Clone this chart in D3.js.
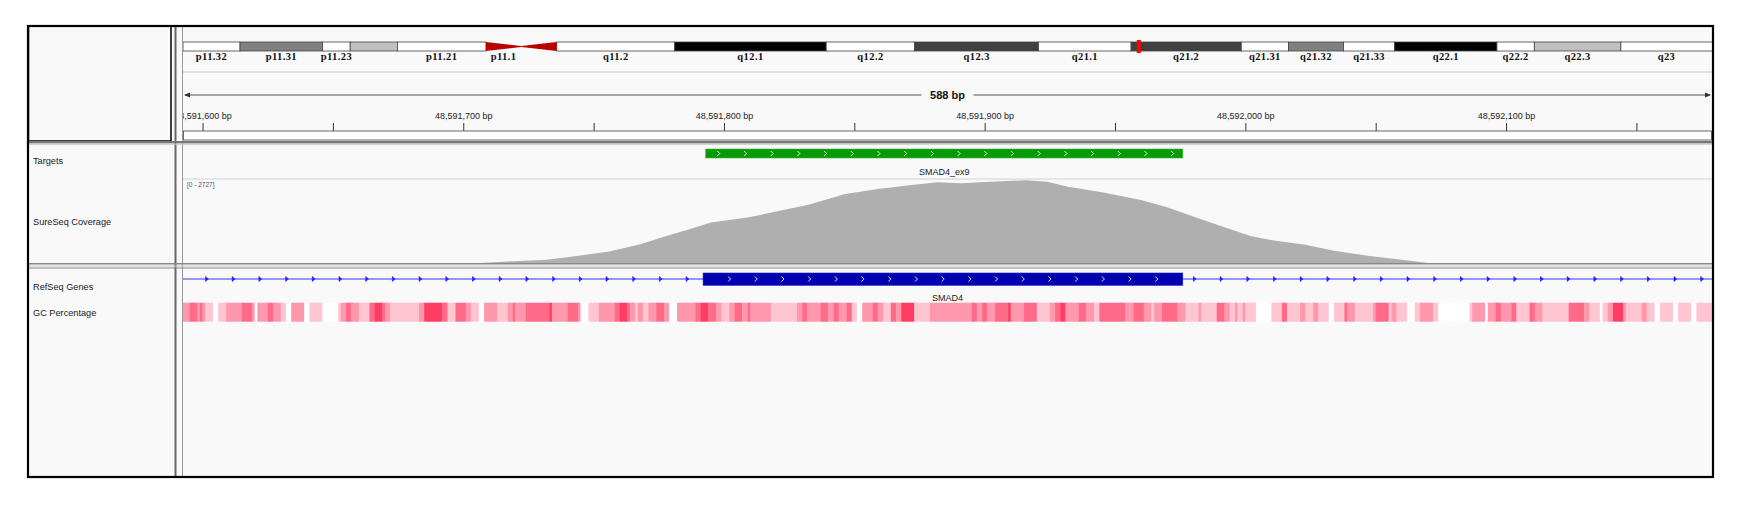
<!DOCTYPE html>
<html>
<head>
<meta charset="utf-8">
<script src="https://cdn.jsdelivr.net/npm/d3@7"></script>
<style>
  body { margin: 0; background: #fff; }
  text { font-family: "Liberation Sans", Arial, sans-serif; }
</style>
</head>
<body>
<div id="igv"></div>
<script>
// view window on chr18 (hg19)
const viewStart = 48591592.5;
const viewEnd = 48592179;
const spanLabel = '588 bp';

// chr18 cytobands (Mb)
const bandNames = ['p11.32', 'p11.31', 'p11.23', 'p11.22', 'p11.21', 'p11.1', 'q11.1', 'q11.2', 'q12.1', 'q12.2',
  'q12.3', 'q21.1', 'q21.2', 'q21.31', 'q21.32', 'q21.33', 'q22.1', 'q22.2', 'q22.3', 'q23'];
const bandLabels = ['p11.32', 'p11.31', 'p11.23', '', 'p11.21', 'p11.1', '', 'q11.2', 'q12.1', 'q12.2',
  'q12.3', 'q21.1', 'q21.2', 'q21.31', 'q21.32', 'q21.33', 'q22.1', 'q22.2', 'q22.3', 'q23'];
const bandStarts = [0, 2.9, 7.1, 8.5, 10.9, 15.4, 17.2, 19.0, 25.0, 32.7, 37.2, 43.5, 48.2, 53.8, 56.2, 59.0, 61.6, 66.8, 68.7, 73.1];
const bandEnds = [2.9, 7.1, 8.5, 10.9, 15.4, 17.2, 19.0, 25.0, 32.7, 37.2, 43.5, 48.2, 53.8, 56.2, 59.0, 61.6, 66.8, 68.7, 73.1, 78.077];
const bandStains = ['gneg', 'gpos50', 'gneg', 'gpos25', 'gneg', 'acen', 'acen', 'gneg', 'gpos100', 'gneg',
  'gpos75', 'gneg', 'gpos75', 'gneg', 'gpos50', 'gneg', 'gpos100', 'gneg', 'gpos25', 'gneg'];

// features
const targetName = 'SMAD4_ex9';
const targetStart = 48591793;
const targetEnd = 48591976;
const geneName = 'SMAD4';
const geneStart = 48556583;
const geneEnd = 48611412;
const exonStart = 48591792;
const exonEnd = 48591976;

// coverage
const covMax = 2727;
const covPos = [48591705, 48591717, 48591732, 48591742, 48591756, 48591768, 48591776, 48591788, 48591795,
  48591809, 48591820, 48591832, 48591840, 48591846, 48591859, 48591872, 48591882, 48591891, 48591902,
  48591916, 48591924, 48591932, 48591945, 48591960, 48591970, 48591980, 48591992, 48592002, 48592011,
  48592023, 48592034, 48592047, 48592060, 48592071];
const covVal = [0, 58, 113, 219, 381, 620, 833, 1136, 1317, 1478, 1672, 1888, 2082, 2233, 2404, 2533, 2620,
  2588, 2640, 2685, 2640, 2478, 2298, 2049, 1814, 1510, 1168, 887, 736, 597, 403, 242, 113, 0];

// GC percentage windows: offset (bp from gcBase) where each run starts, and its GC %
const gcBase = 48591592;
const gcEndOffset = 587;
const gcOffset = [0, 3, 6, 7, 8, 9, 12, 14, 17, 23, 27, 28, 29, 33, 35, 38, 40, 42, 47, 49, 54, 60, 61, 63, 65, 68,
  72, 74, 77, 78, 80, 91, 93, 100, 102, 105, 109, 111, 114, 116, 121, 125, 127, 128, 132, 141, 142,
  148, 152, 153, 156, 160, 166, 168, 171, 172, 174, 175, 177, 179, 182, 185, 187, 190, 197, 199, 202, 205,
  207, 210, 212, 215, 217, 218, 226, 236, 238, 240, 245, 248, 250, 252, 255, 257, 259, 261, 265, 267, 269,
  272, 274, 276, 281, 287,
  303, 305, 307, 309, 312, 317, 318, 323, 328, 333, 335, 337, 339, 344, 347, 350, 352, 362, 365, 369, 372,
  373, 376, 382, 385, 390, 391, 397, 400, 402, 404, 405, 407, 408, 412, 418, 422, 424, 429, 431, 434, 436,
  440, 442, 446, 447, 450, 457, 458, 463, 464, 466, 470, 473, 475, 480, 482, 494, 495, 500, 501, 504, 506,
  510, 512, 517, 519, 522, 532, 538, 540, 544, 545, 547, 549, 553, 554, 560, 562, 565, 567, 572, 574, 579, 581];
const gcPct = [48, 56, 48, 56, 48, 40, 30, 40, 48, 56, 48, 30, 48, 56, 48, 40, 30, 48, 30, 40, 30, 40, 48, 56, 48, 40,
  56, 64, 56, 48, 40, 48, 64, 56, 40, 56, 48, 40, 30, 48, 40, 48, 56, 48, 56, 64, 48,
  56, 48, 30, 40, 48, 56, 64, 56, 48, 40, 48, 40, 48, 56, 48, 30, 48, 56, 64, 56, 48,
  40, 48, 56, 48, 56, 48, 40, 48, 56, 48, 56, 48, 56, 48, 56, 40, 30, 48, 56, 48, 40,
  56, 48, 64, 40, 48,
  56, 48, 56, 48, 56, 64, 48, 56, 40, 48, 56, 64, 48, 56, 48, 40, 56, 48, 56, 48, 40,
  48, 56, 48, 40, 48, 40, 56, 48, 40, 48, 40, 48, 40, 30, 40, 56, 40, 48, 40, 48, 40,
  30, 40, 56, 48, 40, 48, 56, 40, 48, 40, 30, 40, 48, 40, 30, 40, 48, 30, 48, 56, 48,
  56, 40, 56, 48, 40, 56, 48, 40, 30, 40, 48, 64, 48, 40, 48, 40, 30, 40, 30, 40, 30, 40];

const trackNames = ['Targets', 'SureSeq Coverage', 'RefSeq Genes', 'GC Percentage'];

drawIGV();

function drawIGV() {
  const width = 1751;
  const height = 511;
  const left = 183;
  const right = 1712;
  const top = 26;
  const bottom = 477;
  const bg = '#f9f9f9';

  const svg = d3.select('#igv').append('svg')
    .attr('width', width)
    .attr('height', height);

  svg.append('rect').attr('width', width).attr('height', height).attr('fill', '#fff');
  svg.append('rect')
    .attr('x', 28).attr('y', top)
    .attr('width', right - 28).attr('height', bottom - top)
    .attr('fill', bg);

  svg.append('defs').append('clipPath').attr('id', 'dataClip')
    .append('rect')
    .attr('x', left).attr('y', top)
    .attr('width', right - left).attr('height', bottom - top);

  const x = d3.scaleLinear().domain([viewStart, viewEnd]).range([left, right]);

  const data = svg.append('g').attr('clip-path', 'url(#dataClip)');

  // ---------- ideogram ----------
  const ideoX = d3.scaleLinear().domain([0, 78.077]).range([left, left + 78.077 * 19.67]);
  const stainColor = {gneg: '#ffffff', gpos25: '#c0c0c0', gpos50: '#808080', gpos75: '#404040', gpos100: '#000000', acen: '#b80000'};
  const bands = bandNames.map((n, i) => ({name: n, label: bandLabels[i], s: bandStarts[i], e: bandEnds[i], stain: bandStains[i]}));
  const iy0 = 42;
  const iy1 = 51;
  const imid = (iy0 + iy1) / 2;
  const ideo = data.append('g');

  ideo.selectAll('rect.band')
    .data(bands.filter(d => d.stain !== 'acen'))
    .join('rect')
    .attr('class', 'band')
    .attr('x', d => ideoX(d.s))
    .attr('y', iy0)
    .attr('width', d => ideoX(d.e) - ideoX(d.s))
    .attr('height', iy1 - iy0)
    .attr('fill', d => stainColor[d.stain])
    .attr('stroke', '#444')
    .attr('stroke-width', 0.8);

  ideo.selectAll('path.acen')
    .data(bands.filter(d => d.stain === 'acen'))
    .join('path')
    .attr('class', 'acen')
    .attr('d', d => d.name.startsWith('p')
      ? `M${ideoX(d.s)},${iy0}L${ideoX(d.e)},${imid - 0.4}L${ideoX(d.e)},${imid + 0.4}L${ideoX(d.s)},${iy1}Z`
      : `M${ideoX(d.s)},${imid - 0.4}L${ideoX(d.e)},${iy0}L${ideoX(d.e)},${iy1}L${ideoX(d.s)},${imid + 0.4}Z`)
    .attr('fill', stainColor.acen);

  ideo.selectAll('text.bandLabel')
    .data(bands.filter(d => d.label))
    .join('text')
    .attr('class', 'bandLabel')
    .attr('x', d => (ideoX(d.s) + Math.min(ideoX(d.e), right)) / 2)
    .attr('y', 60)
    .attr('text-anchor', 'middle')
    .style('font-family', '"Liberation Serif", "Times New Roman", serif')
    .style('font-weight', 'bold')
    .style('font-size', '10.5px')
    .style('letter-spacing', '0.4px')
    .attr('fill', '#111')
    .text(d => d.label);

  // current view marker
  const viewMid = (viewStart + viewEnd) / 2 / 1e6;
  ideo.append('rect')
    .attr('x', ideoX(viewMid) - 2).attr('y', iy0 - 2)
    .attr('width', 4).attr('height', iy1 - iy0 + 4)
    .attr('fill', '#ff0000');

  data.append('line')
    .attr('x1', left).attr('x2', right).attr('y1', 72).attr('y2', 72)
    .attr('stroke', '#dedee4').attr('stroke-width', 2);

  // ---------- ruler ----------
  const ry = 95;
  data.append('line')
    .attr('x1', left + 2).attr('x2', right - 2).attr('y1', ry).attr('y2', ry)
    .attr('stroke', '#555').attr('stroke-width', 1.2);
  data.append('path')
    .attr('d', `M${left + 1},${ry}L${left + 7},${ry - 2.5}L${left + 7},${ry + 2.5}Z M${right - 1},${ry}L${right - 7},${ry - 2.5}L${right - 7},${ry + 2.5}Z`)
    .attr('fill', '#333');
  const midX = (left + right) / 2;
  data.append('rect')
    .attr('x', midX - 26).attr('y', ry - 6).attr('width', 52).attr('height', 12)
    .attr('fill', bg);
  data.append('text')
    .attr('x', midX).attr('y', ry + 4)
    .attr('text-anchor', 'middle')
    .style('font-size', '11px').style('font-weight', 'bold')
    .attr('fill', '#111')
    .text(spanLabel);

  const ticks = d3.range(48591600, viewEnd, 50);
  const axis = d3.axisTop(x)
    .tickValues(ticks)
    .tickSize(8)
    .tickPadding(4.5)
    .tickFormat(d => d % 100 === 0 ? d3.format(',')(d) + ' bp' : '');
  const axisG = data.append('g')
    .attr('transform', 'translate(0,131)')
    .call(axis);
  axisG.select('.domain').remove();
  axisG.selectAll('line').attr('stroke', '#333');
  axisG.selectAll('text')
    .style('font-family', '"Liberation Sans", Arial, sans-serif')
    .style('font-size', '9px')
    .attr('fill', '#222');

  svg.append('rect')
    .attr('x', left + 0.5).attr('y', 131).attr('width', right - left - 1).attr('height', 9)
    .attr('fill', '#fff').attr('stroke', '#666').attr('stroke-width', 1);

  // ---------- name panel frame ----------
  svg.append('rect')
    .attr('x', 28.5).attr('y', top).attr('width', 142.5).attr('height', 115)
    .attr('fill', 'none').attr('stroke', '#000').attr('stroke-width', 1.5);
  svg.append('line')
    .attr('x1', 175.5).attr('x2', 175.5).attr('y1', top).attr('y2', bottom)
    .attr('stroke', '#666').attr('stroke-width', 2);
  svg.append('line')
    .attr('x1', left - 0.5).attr('x2', left - 0.5).attr('y1', top).attr('y2', bottom)
    .attr('stroke', '#999').attr('stroke-width', 1);

  // panel dividers
  svg.append('rect').attr('x', 28).attr('y', 141).attr('width', right - 28).attr('height', 2.4).attr('fill', '#777');
  svg.append('line').attr('x1', 28).attr('x2', right).attr('y1', 144.2).attr('y2', 144.2).attr('stroke', '#c4c4c4');
  svg.append('line').attr('x1', 28).attr('x2', right).attr('y1', 263.8).attr('y2', 263.8).attr('stroke', '#888').attr('stroke-width', 1.5);
  svg.append('line').attr('x1', 28).attr('x2', right).attr('y1', 266).attr('y2', 266).attr('stroke', '#c8c8c8');
  svg.append('line').attr('x1', 28).attr('x2', right).attr('y1', 268).attr('y2', 268).attr('stroke', '#888').attr('stroke-width', 1.2);

  // ---------- targets ----------
  const tg = data.append('g');
  tg.append('rect')
    .attr('x', x(targetStart)).attr('y', 149)
    .attr('width', x(targetEnd) - x(targetStart)).attr('height', 9)
    .attr('fill', '#069a06').attr('stroke', '#3cb43c').attr('stroke-width', 0.6);
  tg.selectAll('path.chev')
    .data(d3.range(x(targetStart) + 12.6, x(targetEnd) - 4, 26.7))
    .join('path')
    .attr('class', 'chev')
    .attr('d', d => `M${d - 1},151L${d + 1.5},153.5L${d - 1},156`)
    .attr('fill', 'none').attr('stroke', '#fff').attr('stroke-width', 0.9);
  tg.append('text')
    .attr('x', (x(targetStart) + x(targetEnd)) / 2).attr('y', 175)
    .attr('text-anchor', 'middle')
    .style('font-size', '9px').attr('fill', '#222')
    .text(targetName);

  data.append('line')
    .attr('x1', left).attr('x2', right).attr('y1', 179).attr('y2', 179)
    .attr('stroke', '#dcdce6').attr('stroke-width', 1.5);

  // ---------- coverage ----------
  const cy = d3.scaleLinear().domain([0, covMax]).range([263.3, 179]);
  const cov = covPos.map((p, i) => ({p, v: covVal[i]}));
  data.append('path')
    .datum(cov)
    .attr('d', d3.area().x(d => x(d.p)).y0(cy(0)).y1(d => cy(d.v)))
    .attr('fill', '#afafaf');
  data.append('text')
    .attr('x', 187).attr('y', 187)
    .style('font-size', '6.5px').attr('fill', '#555')
    .text(`[0 - ${covMax}]`);

  // ---------- RefSeq genes ----------
  const gy = 279;
  const gg = data.append('g');
  gg.append('line')
    .attr('x1', Math.max(x(geneStart), left)).attr('x2', Math.min(x(geneEnd), right))
    .attr('y1', gy).attr('y2', gy)
    .attr('stroke', '#3030ff').attr('stroke-width', 1);
  gg.selectAll('path.intron')
    .data(d3.range(206.7, right, 26.7).filter(d => d < x(exonStart) - 3 || d > x(exonEnd) + 3))
    .join('path')
    .attr('class', 'intron')
    .attr('d', d => `M${d - 1.2},${gy - 2.6}L${d + 1.6},${gy}L${d - 1.2},${gy + 2.6}Z`)
    .attr('fill', '#2020ff').attr('stroke', '#2020ff').attr('stroke-width', 0.6);
  gg.append('rect')
    .attr('x', x(exonStart)).attr('y', 273)
    .attr('width', x(exonEnd) - x(exonStart)).attr('height', 12.3)
    .attr('fill', '#0000b0').attr('stroke', '#1818c0').attr('stroke-width', 0.6);
  gg.selectAll('path.echev')
    .data(d3.range(x(exonStart) + 26, x(exonEnd) - 4, 26.7))
    .join('path')
    .attr('class', 'echev')
    .attr('d', d => `M${d - 1},${gy - 2.5}L${d + 1.5},${gy}L${d - 1},${gy + 2.5}`)
    .attr('fill', 'none').attr('stroke', '#fff').attr('stroke-width', 0.9);
  gg.append('text')
    .attr('x', (Math.max(x(geneStart), left) + Math.min(x(geneEnd), right)) / 2).attr('y', 301)
    .attr('text-anchor', 'middle')
    .style('font-size', '9px').attr('fill', '#222')
    .text(geneName);

  // ---------- GC percentage ----------
  const gcColor = d3.scaleLinear().domain([30, 70]).range(['#ffffff', '#ff1a48']).clamp(true);
  const gcBins = gcOffset.map((o, i) => ({
    s: gcBase + o,
    e: gcBase + (i < gcOffset.length - 1 ? gcOffset[i + 1] : gcEndOffset),
    pct: gcPct[i]
  }));
  data.append('g').selectAll('rect')
    .data(gcBins)
    .join('rect')
    .attr('x', d => x(d.s))
    .attr('y', 302.7)
    .attr('width', d => x(d.e) - x(d.s) + 0.3)
    .attr('height', 19)
    .attr('fill', d => gcColor(d.pct));

  // ---------- track names ----------
  const nameY = [161, 222, 287, 313];
  svg.selectAll('text.trackName')
    .data(trackNames)
    .join('text')
    .attr('class', 'trackName')
    .attr('x', 33)
    .attr('y', (d, i) => nameY[i] + 3)
    .style('font-size', '9.2px')
    .attr('fill', '#1a1a1a')
    .text(d => d);

  // outer frame
  svg.append('rect')
    .attr('x', 28).attr('y', top)
    .attr('width', right - 28 + 1).attr('height', bottom - top)
    .attr('fill', 'none').attr('stroke', '#000').attr('stroke-width', 2.2);
}
</script>
</body>
</html>
